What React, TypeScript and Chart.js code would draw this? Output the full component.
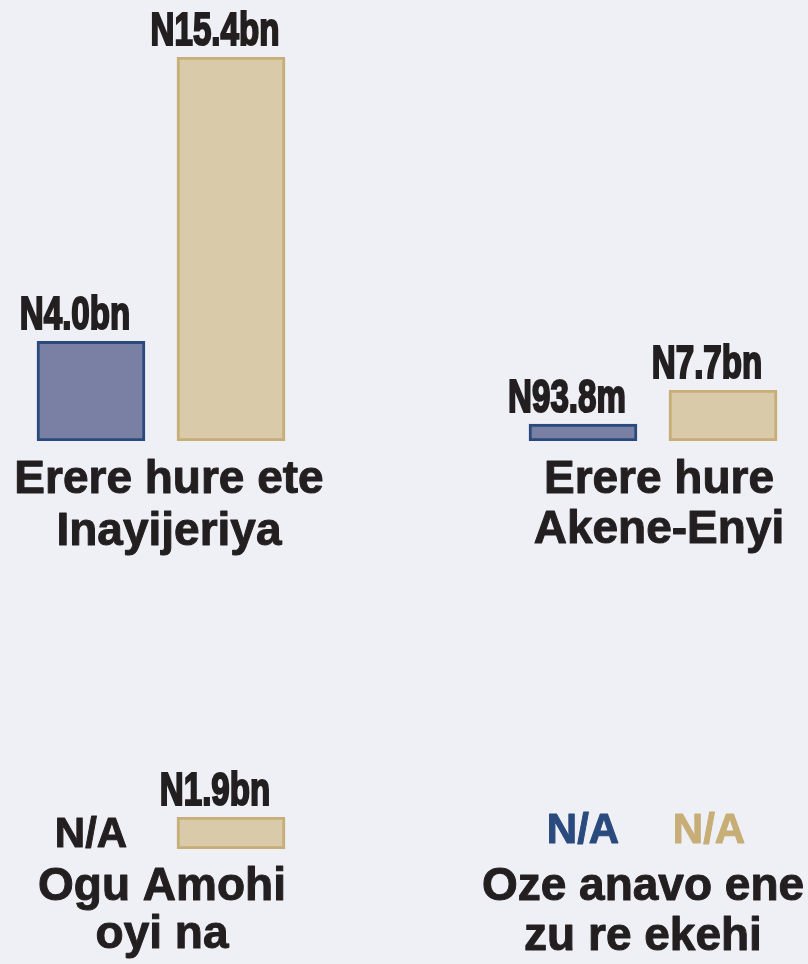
import React, { useEffect, useRef } from "react";
import { Chart, registerables } from "chart.js";

Chart.register(...registerables);

// ---- Data ----
const seriesNames = ["Series 1", "Series 2"];
const categories: string[][] = [
  ["Erere hure ete", "Inayijeriya"],
  ["Erere hure", "Akene-Enyi"],
  ["Ogu Amohi", "oyi na"],
  ["Oze anavo ene", "zu re ekehi"],
];
const blueValues: (number | null)[] = [4.0, 0.0938, null, null];
const tanValues: (number | null)[] = [15.4, 7.7, 1.9, null];
const blueLabels = ["N4.0bn", "N93.8m", "N/A", "N/A"];
const tanLabels = ["N15.4bn", "N7.7bn", "N1.9bn", "N/A"];

// ---- Styles / layout ----
const W = 808;
const H = 964;
const BG = "#eff0f5";
const BLUE_FILL = "#7980a3";
const BLUE_EDGE = "#2a4a7e";
const TAN_FILL = "#d9caa9";
const TAN_EDGE = "#c7ae77";
const TEXT = "#231f20";

type Panel = {
  area: [number, number, number, number]; // left, top, right, bottom of plot area
  labelX: number;
  baselines: [number, number];
  minBar: number;
  naColors: [string, string];
};

const panels: Panel[] = [
  { area: [21, 57, 301, 441], labelX: 169, baselines: [493, 545], minBar: 0, naColors: [TEXT, TEXT] },
  { area: [513, 390, 793, 441], labelX: 659, baselines: [493, 543], minBar: 17, naColors: [TEXT, TEXT] },
  { area: [21, 817, 301, 849], labelX: 162, baselines: [900, 948], minBar: 0, naColors: [TEXT, TEXT] },
  { area: [520, 790, 772, 845], labelX: 643, baselines: [900, 950], minBar: 0, naColors: [BLUE_EDGE, TAN_EDGE] },
];

const VALUE_FONT = "bold 46px 'Liberation Sans', Arial, sans-serif";
const VALUE_SCALE_X = 0.72;
const NA_FONT = "bold 42px 'Liberation Sans', Arial, sans-serif";
const CAT_FONT = "bold 46px 'Liberation Sans', Arial, sans-serif";

function PanelChart({ index }: { index: number }) {
  const ref = useRef<HTMLCanvasElement | null>(null);
  useEffect(() => {
    const canvas = ref.current;
    if (!canvas) return;
    const p = panels[index];
    const vals = [blueValues[index], tanValues[index]];
    const labels = [blueLabels[index], tanLabels[index]];
    const nums = vals.filter((v) => v !== null) as number[];
    const yMax = nums.length ? Math.max(...nums) : 1;

    const labelPlugin = {
      id: "panelLabels",
      afterDatasetsDraw(chart: any) {
        const ctx = chart.ctx as CanvasRenderingContext2D;
        const area = chart.chartArea;
        const xs = chart.scales.x;
        const ys = chart.scales.y;
        const meta = chart.getDatasetMeta(0);
        ctx.save();
        for (let i = 0; i < 2; i++) {
          const cx = xs.getPixelForValue(i);
          const v = vals[i];
          if (v === null) {
            ctx.font = NA_FONT;
            ctx.fillStyle = p.naColors[i];
            ctx.strokeStyle = p.naColors[i];
            ctx.lineWidth = 1;
            ctx.lineJoin = "round";
            ctx.textAlign = "center";
            ctx.textBaseline = "alphabetic";
            ctx.fillText(labels[i], cx, area.bottom - 2);
            ctx.strokeText(labels[i], cx, area.bottom - 2);
          } else {
            const el = meta.data[i];
            const top = el ? Math.min(el.y, ys.getPixelForValue(v)) : ys.getPixelForValue(v);
            ctx.save();
            ctx.font = VALUE_FONT;
            ctx.fillStyle = TEXT;
            ctx.strokeStyle = TEXT;
            ctx.lineWidth = 2.2;
            ctx.lineJoin = "miter";
            ctx.textAlign = "center";
            ctx.textBaseline = "alphabetic";
            ctx.translate(cx - 16, top - 12);
            ctx.scale(VALUE_SCALE_X, 1);
            ctx.fillText(labels[i], 0, 0);
            ctx.strokeText(labels[i], 0, 0);
            ctx.restore();
          }
        }
        ctx.font = CAT_FONT;
        ctx.fillStyle = TEXT;
        ctx.strokeStyle = TEXT;
        ctx.lineWidth = 1;
        ctx.lineJoin = "round";
        ctx.textAlign = "center";
        ctx.textBaseline = "alphabetic";
        categories[index].forEach((line, k) => {
          ctx.fillText(line, p.labelX, p.baselines[k]);
          ctx.strokeText(line, p.labelX, p.baselines[k]);
        });
        ctx.restore();
      },
    };

    const chart = new Chart(canvas, {
      type: "bar",
      data: {
        labels: seriesNames,
        datasets: [
          {
            label: categories[index].join(" "),
            data: vals as any,
            backgroundColor: [BLUE_FILL, TAN_FILL],
            borderColor: [BLUE_EDGE, TAN_EDGE],
            borderWidth: 3,
            borderSkipped: false,
            barThickness: 108,
            minBarLength: p.minBar,
          },
        ],
      },
      options: {
        responsive: false,
        animation: false,
        layout: {
          padding: {
            left: p.area[0],
            top: p.area[1],
            right: W - p.area[2],
            bottom: H - p.area[3],
          },
        },
        scales: {
          x: { display: false },
          y: { display: false, min: 0, max: yMax },
        },
        plugins: {
          legend: { display: false },
          tooltip: { enabled: false },
          title: { display: false },
        },
      },
      plugins: [labelPlugin],
    });
    return () => chart.destroy();
  }, [index]);

  return (
    <canvas
      ref={ref}
      width={W}
      height={H}
      style={{ position: "absolute", left: 0, top: 0, width: W, height: H }}
    />
  );
}

export default function App() {
  useEffect(() => {
    document.body.style.margin = "0";
    document.body.style.background = BG;
  }, []);
  return (
    <div style={{ position: "absolute", left: 0, top: 0, width: W, height: H, background: BG, overflow: "hidden" }}>
      {panels.map((_, i) => (
        <PanelChart key={i} index={i} />
      ))}
    </div>
  );
}
